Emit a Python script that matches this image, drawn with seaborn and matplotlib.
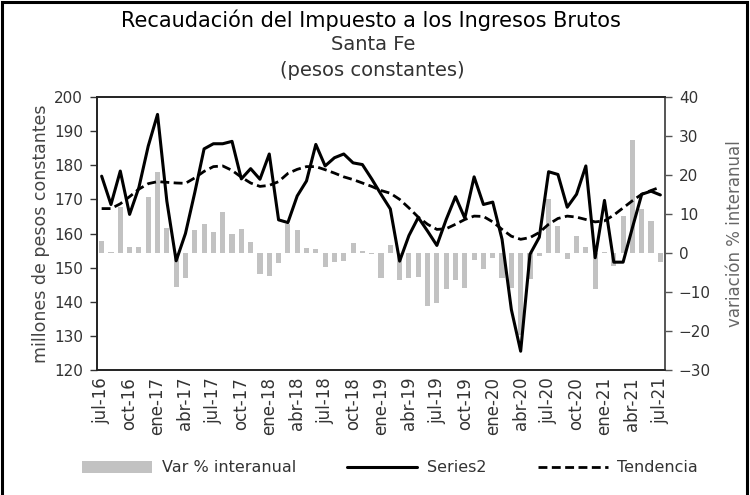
import numpy as np
import pandas as pd
import matplotlib
matplotlib.use("Agg")
import matplotlib.pyplot as plt
import seaborn as sns
from matplotlib.patches import Rectangle, Patch
from matplotlib.lines import Line2D
from matplotlib.ticker import FixedLocator, FixedFormatter, NullFormatter

# Meses jul-16 .. jul-21
nombres = ["ene", "feb", "mar", "abr", "may", "jun",
           "jul", "ago", "sep", "oct", "nov", "dic"]
meses = [f"{nombres[(6 + k) % 12]}-{16 + (6 + k) // 12}" for k in range(61)]

# Recaudación mensual (millones de pesos constantes)
serie = [
    176.8, 168.5, 178.3, 165.6, 173.5, 185.6, 194.9, 169.5, 152.0, 160.0,
    172.0, 184.8, 186.3, 186.3, 187.0, 176.0, 179.0, 175.9, 183.3, 164.0,
    163.2, 171.0, 175.4, 186.1, 179.8, 182.2, 183.3, 180.7, 180.2, 176.0,
    171.5, 167.2, 151.9, 159.4, 164.7, 160.7, 156.5, 164.1, 170.8, 164.5,
    176.6, 168.5, 169.2, 158.3, 137.7, 125.5, 153.9, 158.9, 178.1, 177.3,
    167.7, 171.5, 179.8, 152.9, 169.7, 151.6, 151.6, 161.7, 171.5, 172.4,
    171.3,
]

# Tendencia (millones de pesos constantes)
tendencia = [
    167.3, 167.3, 168.7, 170.8, 173.0, 174.6, 175.2, 175.0, 174.8, 174.7,
    176.3, 178.2, 179.6, 179.8, 178.5, 176.5, 174.8, 173.8, 174.1, 175.2,
    177.6, 178.8, 179.6, 179.6, 178.7, 177.7, 176.6, 175.8, 174.8, 173.8,
    172.6, 171.8, 170.0, 167.5, 164.8, 162.7, 161.2, 161.4, 162.7, 164.1,
    165.1, 165.0, 163.4, 161.2, 159.2, 158.3, 158.8, 160.3, 162.7, 164.4,
    165.1, 164.8, 164.1, 163.4, 163.7, 165.4, 167.5, 169.6, 171.5, 172.6,
    173.6,
]

# Variación % interanual
var_interanual = [
    3.2, 0.3, 11.9, 1.5, 1.5, 14.4, 20.7, 6.5, -8.6, -6.3,
    5.9, 7.5, 5.5, 10.4, 4.9, 6.2, 2.9, -5.3, -5.9, -2.6,
    7.5, 5.9, 1.2, 0.9, -3.6, -2.3, -2.1, 2.6, 0.4, -0.3,
    -6.3, 2.0, -6.9, -6.3, -6.2, -13.5, -12.9, -9.3, -6.9, -9.0,
    -1.7, -4.0, -1.2, -6.3, -8.9, -21.0, -6.7, -0.8, 13.8, 7.0,
    -1.6, 4.4, 1.6, -9.2, 0.2, -3.4, 9.4, 29.0, 11.2, 8.1,
    -2.3,
]

etiquetas_x = ["jul-16", "oct-16", "ene-17", "abr-17", "jul-17", "oct-17",
               "ene-18", "abr-18", "jul-18", "oct-18", "ene-19", "abr-19",
               "jul-19", "oct-19", "ene-20", "abr-20", "jul-20", "oct-20",
               "ene-21", "abr-21", "jul-21"]

df = pd.DataFrame({"mes": meses, "serie": serie, "tend": tendencia,
                   "var": var_interanual})
df["pos"] = np.arange(len(df))

sns.set_style("white")
plt.rcParams["font.family"] = ["DejaVu Sans"]

W, H = 750, 495
fig = plt.figure(figsize=(W / 100, H / 100), dpi=100)
ax = fig.add_axes([97 / W, 1 - 370 / H, (665 - 97) / W, (370 - 97) / H])

GRIS = "#c2c2c2"
TXT = "#333333"

# Barras: variación interanual (eje derecho)
sns.barplot(data=df, x="pos", y="var", color=GRIS, saturation=1,
            width=0.55, linewidth=0, ax=ax)

# Líneas: recaudación y tendencia (eje izquierdo)
ax2 = ax.twinx()
sns.lineplot(data=df, x="pos", y="serie", ax=ax2, color="black", lw=2.2)
sns.lineplot(data=df, x="pos", y="tend", ax=ax2, color="black", lw=2.0,
             linestyle=(0, (3.2, 1.6)))

ax.set_xlim(-0.5, len(df) - 0.5)
ax.set_ylim(-30, 40)
ax.set_yticks(range(-30, 41, 10))
ax.yaxis.tick_right()
ax.yaxis.set_label_position("right")

ax2.set_ylim(120, 200)
ax2.set_yticks(range(120, 201, 10))
ax2.yaxis.tick_left()
ax2.yaxis.set_label_position("left")

# Marcas entre categorías, etiquetas cada tres meses
ax.xaxis.set_major_locator(FixedLocator(np.arange(-0.5, len(df), 3)))
ax.xaxis.set_major_formatter(NullFormatter())
ax.xaxis.set_minor_locator(FixedLocator(np.arange(0, len(df), 3)))
ax.xaxis.set_minor_formatter(FixedFormatter(etiquetas_x))
ax.tick_params(axis="x", which="major", length=5, width=1, color="#333333",
               direction="out")
ax.tick_params(axis="x", which="minor", length=0, pad=5, labelsize=12,
               labelrotation=90, labelcolor=TXT)
ax.tick_params(axis="y", which="major", length=5, width=1, color="#555555",
               direction="out", labelsize=11, labelcolor=TXT, pad=5)
ax2.tick_params(axis="y", which="major", length=5, width=1, color="#333333",
                direction="out", labelsize=11, labelcolor=TXT, pad=5)

ax.set_xlabel("")
ax2.set_xlabel("")
ax2.set_ylabel("millones de pesos constantes", fontsize=12.5, color="#444444",
               labelpad=3)
ax.set_ylabel("variación % interanual", fontsize=12, color="#666666",
              labelpad=11)

for a in (ax, ax2):
    for s in a.spines.values():
        s.set_linewidth(1.2)
        s.set_color("#222222")
ax.spines["right"].set_color("#555555")
ax2.spines["right"].set_color("#555555")

# Títulos
fig.text(0.495, 1 - 20 / H, "Recaudación del Impuesto a los Ingresos Brutos",
         ha="center", va="center", fontsize=15, color="black")
fig.text(0.497, 1 - 45 / H, "Santa Fe", ha="center", va="center",
         fontsize=14, color="#333333")
fig.text(0.497, 1 - 70 / H, "(pesos constantes)", ha="center", va="center",
         fontsize=14, color="#333333")

# Leyenda
handles = [
    Patch(facecolor=GRIS, edgecolor="none"),
    Line2D([], [], color="black", lw=2.2),
    Line2D([], [], color="black", lw=2.0, linestyle=(0, (3.2, 1.6))),
]
fig.legend(handles, ["Var % interanual", "Series2", "Tendencia"],
           loc="center", bbox_to_anchor=(0.52, 1 - 468 / H), ncol=3,
           frameon=False, fontsize=11.5, handlelength=4.4,
           columnspacing=3.2, handletextpad=0.6, labelcolor=TXT)

# Marco exterior
fig.patches.append(Rectangle((2 / W, -0.02), (W - 5) / W, 1.02 - 2 / H,
                             transform=fig.transFigure, fill=False,
                             lw=2.2, ec="black"))

fig.savefig("out.png", dpi=100)
